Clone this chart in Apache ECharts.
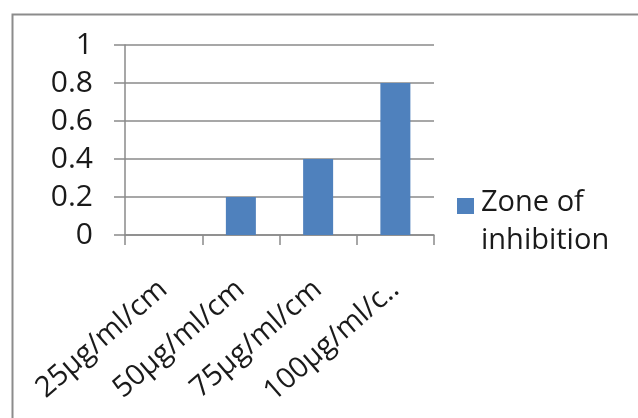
<!DOCTYPE html>
<html>
<head>
<meta charset="utf-8">
<script src="https://cdn.jsdelivr.net/npm/echarts@6/dist/echarts.min.js"></script>
<style>
  html, body { margin: 0; padding: 0; background: #ffffff; }
  #chart { width: 638px; height: 418px; }
</style>
</head>
<body>
<div id="chart"></div>
<script>
// Concentrations tested and the measured zone of inhibition for each
const categories = ['25µg/ml/cm', '50µg/ml/cm', '75µg/ml/cm', '100µg/ml/cm'];
const zoneValues = [0, 0.2, 0.4, 0.8];
const seriesName = 'Zone of inhibition';
const yTicks = [0, 0.2, 0.4, 0.6, 0.8, 1];

const FONT = 'Open Sans';
const GRID_COLOR = '#8a8a8a';
const TEXT_COLOR = '#1a1a1a';

// Legend swatch: a square inside a taller item box
const LEGEND_ICON = 'path://M0 0H17V16H0Z M0 0L0 48';

const chart = echarts.init(document.getElementById('chart'), null, { renderer: 'canvas' });

chart.setOption({
  animation: false,
  backgroundColor: '#ffffff',
  textStyle: { fontFamily: FONT },
  graphic: [{
    type: 'rect',
    left: 10, top: 12,
    shape: { width: 700, height: 500 },
    style: { fill: 'none', stroke: '#8c8c8c', lineWidth: 2 },
    silent: true
  }],
  grid: { left: 125, right: 204, top: 45, bottom: 183 },
  legend: {
    data: [seriesName],
    left: 452, top: 179,
    orient: 'vertical',
    itemWidth: 17, itemHeight: 48, itemGap: 0,
    icon: LEGEND_ICON,
    formatter: name => name.replace(' of ', ' of\n'),
    textStyle: { fontFamily: FONT, fontSize: 29, color: TEXT_COLOR, lineHeight: 38, padding: [0, 0, 0, 2] }
  },
  xAxis: {
    type: 'category',
    data: categories,
    axisLine: { show: true, lineStyle: { color: GRID_COLOR, width: 1.5 } },
    axisTick: { show: true, length: 10, alignWithLabel: false, lineStyle: { color: GRID_COLOR, width: 1.5 } },
    axisLabel: {
      rotate: 41, interval: 0, margin: 31,
      verticalAlign: 'top',
      padding: [0, 13, 0, 0],
      fontFamily: FONT, fontSize: 29, color: TEXT_COLOR,
      formatter: v => (v.length > 10 ? v.slice(0, 10) + '..' : v)
    }
  },
  yAxis: {
    type: 'value',
    min: 0, max: 1, interval: 0.2,
    axisLine: { show: true, lineStyle: { color: GRID_COLOR, width: 1.5 } },
    axisTick: { show: true, inside: false, length: 11, lineStyle: { color: GRID_COLOR, width: 1.5 } },
    splitLine: { show: true, lineStyle: { color: GRID_COLOR, width: 1.5 } },
    axisLabel: {
      margin: 32, fontFamily: FONT, fontSize: 30, color: TEXT_COLOR,
      formatter: v => String(yTicks.find(t => Math.abs(t - v) < 1e-9) ?? v)
    }
  },
  series: [{
    name: seriesName,
    type: 'bar',
    data: zoneValues,
    barWidth: 30,
    itemStyle: { color: '#4f81bd' }
  }]
});
</script>
</body>
</html>
